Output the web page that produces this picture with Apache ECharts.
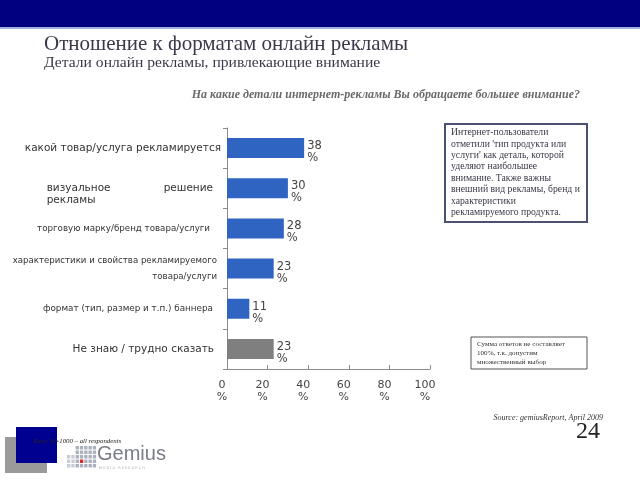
<!DOCTYPE html>
<html>
<head>
<meta charset="utf-8">
<script src="https://cdn.jsdelivr.net/npm/echarts@6/dist/echarts.min.js"></script>
<style>
html, body { margin: 0; padding: 0; background: #fff; }
#chart { width: 640px; height: 480px; }
</style>
</head>
<body>
<div id="chart"></div>
<script>
// категории (сверху вниз)
var categories = [
  "какой товар/услуга рекламируется",
  "визуальное решение рекламы",
  "торговую марку/бренд товара/услуги",
  "характеристики и свойства рекламируемого товара/услуги",
  "формат (тип, размер и т.п.) баннера",
  "Не знаю / трудно сказать"
];
var values = [38, 30, 28, 23, 11, 23];
var barColors = ["#2f64c2", "#2f64c2", "#2f64c2", "#2f64c2", "#2f64c2", "#7f7f7f"];
var xTicks = [0, 20, 40, 60, 80, 100];

var chart = echarts.init(document.getElementById("chart"));

// подписи оси Y в разных стилях, как на слайде
function catLabel(value, idx) {
  switch (idx) {
    case 0: return "{big|" + value + "}";
    case 1: return "{v3| }\n{v1|визуальное}{v2|решение}\n{v3|рекламы}";
    case 2: return "{small|" + value + "}";
    case 3: return "{small2|характеристики и свойства рекламируемого}\n{small2|товара/услуги}";
    case 4: return "{small3|" + value + "}";
    default: return "{big2|" + value + "}";
  }
}

var serif = "'Liberation Serif', 'DejaVu Serif', serif";
var sans = "DejaVu Sans";

chart.setOption({
  animation: false,
  grid: { left: 227, right: 210, top: 128, bottom: 111, containLabel: false },
  xAxis: {
    type: "value",
    min: 0,
    max: 100,
    interval: 20,
    axisLine: { show: true, lineStyle: { color: "#8c8c8c", width: 1 } },
    axisTick: { show: true, length: 4, inside: true, lineStyle: { color: "#8c8c8c" } },
    splitLine: { show: false },
    axisLabel: {
      margin: 10,
      color: "#444",
      fontFamily: sans,
      fontSize: 11,
      lineHeight: 12,
      padding: [0, 10, 0, 0],
      formatter: function (v) { return v + "\n%"; }
    }
  },
  yAxis: {
    type: "category",
    inverse: true,
    data: categories,
    axisLine: { show: true, lineStyle: { color: "#8c8c8c", width: 1 } },
    axisTick: { show: true, length: 4, lineStyle: { color: "#8c8c8c" } },
    axisLabel: {
      margin: 6,
      formatter: catLabel,
      rich: {
        big: { fontFamily: sans, fontSize: 10.5, color: "#333", letterSpacing: 0.3 },
        big2: { fontFamily: sans, fontSize: 10.5, color: "#333", letterSpacing: 0.3, padding: [0, 7, 0, 0] },
        v1: { fontFamily: sans, fontSize: 10.5, color: "#333", width: 117, align: "left", lineHeight: 12 },
        v2: { fontFamily: sans, fontSize: 10.5, color: "#333", align: "right", lineHeight: 12, padding: [0, 8, 0, 0] },
        v3: { fontFamily: sans, fontSize: 10.5, color: "#333", align: "left", lineHeight: 12 },
        small: { fontFamily: sans, fontSize: 8.7, color: "#333", padding: [0, 11, 0, 0] },
        small2: { fontFamily: sans, fontSize: 8.6, color: "#333", lineHeight: 16, align: "right", padding: [0, 4, 0, 0] },
        small3: { fontFamily: sans, fontSize: 8.8, color: "#333", padding: [0, 8, 0, 0] }
      }
    }
  },
  series: [{
    type: "bar",
    barWidth: 20,
    data: values.map(function (v, i) {
      return { value: v, itemStyle: { color: barColors[i] } };
    }),
    label: {
      show: true,
      position: "right",
      distance: 3,
      offset: [0, 4],
      color: "#444",
      fontFamily: sans,
      fontSize: 11.5,
      lineHeight: 12,
      align: "left",
      formatter: "{c}\n%"
    }
  }],
  graphic: [
    // верхняя полоса
    { type: "rect", shape: { x: 0, y: 0, width: 640, height: 27 }, style: { fill: "#000080" } },
    { type: "rect", shape: { x: 0, y: 27, width: 640, height: 2 }, style: { fill: "#9fb0e0" } },
    { type: "text", left: 44, top: 34, style: { text: "Отношение к форматам онлайн рекламы", font: "21px " + serif, fill: "#3a3a4a" } },
    { type: "text", left: 44, top: 55, style: { text: "Детали онлайн рекламы, привлекающие внимание", font: "15.6px " + serif, fill: "#3a3a4a" } },
    { type: "text", right: 60, top: 89, style: { text: "На какие детали интернет-рекламы Вы обращаете большее внимание?", font: "italic bold 12px " + serif, fill: "#6a6a6a" } },
    // пояснение справа
    { type: "rect", shape: { x: 445, y: 124, width: 142, height: 98 }, style: { fill: "#fff", stroke: "#4a5172", lineWidth: 2 } },
    { type: "text", left: 451, top: 127, style: {
      text: "Интернет-пользователи\nотметили 'тип продукта или\nуслуги' как деталь, которой\nуделяют наибольшее\nвнимание. Также важны\nвнешний вид рекламы, бренд и\nхарактеристики\nрекламируемого продукта.",
      font: "9.7px " + serif, lineHeight: 11.4, fill: "#3a3a4a" } },
    { type: "rect", shape: { x: 471, y: 337, width: 116, height: 32 }, style: { fill: "#fff", stroke: "#555", lineWidth: 1 } },
    { type: "text", left: 477, top: 340, style: {
      text: "Сумма ответов не составляет\n100%, т.к. допустим\nмножественный выбор",
      font: "7.1px " + serif, lineHeight: 9, fill: "#333" } },
    // нижний колонтитул
    { type: "rect", shape: { x: 5, y: 437, width: 42, height: 36 }, style: { fill: "#9a9a9a" } },
    { type: "rect", shape: { x: 16, y: 427, width: 41, height: 36 }, style: { fill: "#000090" } },
    { type: "text", left: 33, top: 438, style: { text: "Base: N=1000 – all respondents", font: "italic 6.8px " + serif, fill: "#222" } },
    { type: "group", left: 67, top: 446, children: (function () {
        var out = [];
        for (var c = 0; c < 7; c++) {
          for (var r = 0; r < 5; r++) {
            if (c < 2 && r < 2) continue;
            var red = (c === 3 && r === 3);
            out.push({ type: "rect", shape: { x: c * 4.3, y: r * 4.5, width: 3.3, height: 3.5 },
              style: { fill: red ? "#d62a2a" : (c < 2 ? "#c9cdd6" : "#aab0be") } });
          }
        }
        return out;
      })() },
    { type: "text", left: 97, top: 444, style: { text: "Gemius", font: "20px 'Liberation Sans', Arial, sans-serif", fill: "#7a7d85" } },
    { type: "text", left: 99, top: 466, style: { text: "M E D I A   R E S E A R C H", font: "3.5px 'DejaVu Sans'", fill: "#aaa" } },
    { type: "text", right: 37, top: 414, style: { text: "Source: gemiusReport, April 2009", font: "italic 8px " + serif, fill: "#333" } },
    { type: "text", right: 40, top: 420, style: { text: "24", font: "24px " + serif, fill: "#222" } }
  ]
});
</script>
</body>
</html>
